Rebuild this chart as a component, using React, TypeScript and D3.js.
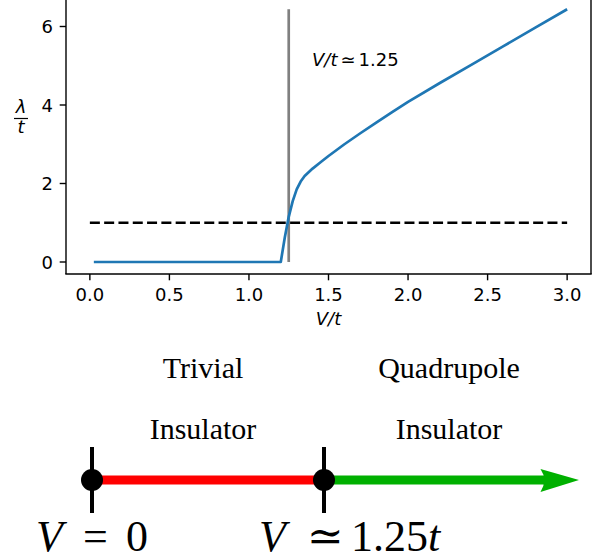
import React from "react";
import * as d3 from "d3";

const vt = [0.025, 1.2, 1.225, 1.25, 1.275, 1.3, 1.325, 1.35, 1.4, 1.45, 1.5, 1.6, 1.7, 1.8, 1.9, 2.0, 2.2, 2.4, 2.6, 2.8, 3.0];
const lambda = [0, 0, 0.62, 1.15, 1.55, 1.85, 2.05, 2.19, 2.38, 2.54, 2.7, 3.0, 3.28, 3.55, 3.82, 4.08, 4.56, 5.03, 5.5, 5.97, 6.44];
const xTicks = [0, 0.5, 1.0, 1.5, 2.0, 2.5, 3.0];
const yTicks = [0, 2, 4, 6];
const threshold = 1.25;
const refLevel = 1;
const phases = [
  { top: "Trivial", bottom: "Insulator" },
  { top: "Quadrupole", bottom: "Insulator" },
];

export default function App() {
  const x = d3.scaleLinear().domain([-0.15, 3.15]).range([66, 591]);
  const y = d3.scaleLinear().domain([0, 6]).range([262, 26.5]);
  const line = d3
    .line<number>()
    .x((_, i) => x(vt[i]))
    .y((d) => y(d));
  const lw = 2.7;
  const sans = "DejaVu Sans, sans-serif";
  const serif = "Liberation Serif, DejaVu Serif, serif";
  const maxL = d3.max(lambda) as number;

  const p = d3.scaleLinear().domain([0, threshold]).range([92, 324]);
  const py = 480;
  const arrowTip = 579;

  return (
    <svg width={602} height={560} style={{ position: "absolute", left: 0, top: 0, background: "#fff" }}>
      <rect width={602} height={560} fill="#fff" />
      <line x1={x(0)} x2={x(3)} y1={y(refLevel)} y2={y(refLevel)} stroke="#000" strokeWidth={lw} strokeDasharray="10,4.3" />
      <line x1={x(threshold)} x2={x(threshold)} y1={y(0)} y2={y(maxL)} stroke="#808080" strokeWidth={lw} />
      <path d={line(lambda) || ""} fill="none" stroke="#1f77b4" strokeWidth={lw} strokeLinejoin="round" />
      <line x1={66} x2={66} y1={-5} y2={274} stroke="#000" strokeWidth={1.4} />
      <line x1={591} x2={591} y1={-5} y2={274} stroke="#000" strokeWidth={1.4} />
      <line x1={66} x2={591} y1={274} y2={274} stroke="#000" strokeWidth={1.4} strokeLinecap="square" />
      {xTicks.map((t) => (
        <g key={"x" + t}>
          <line x1={x(t)} x2={x(t)} y1={274} y2={280.3} stroke="#000" strokeWidth={1.4} />
          <text x={x(t)} y={301} textAnchor="middle" fontFamily={sans} fontSize={18}>
            {t.toFixed(1)}
          </text>
        </g>
      ))}
      {yTicks.map((t) => (
        <g key={"y" + t}>
          <line x1={59.7} x2={66} y1={y(t)} y2={y(t)} stroke="#000" strokeWidth={1.4} />
          <text x={53} y={y(t) + 6.5} textAnchor="end" fontFamily={sans} fontSize={18}>
            {t}
          </text>
        </g>
      ))}
      <text x={328.5} y={325} textAnchor="middle" fontFamily={sans} fontSize={18} fontStyle="italic">
        V/t
      </text>
      <text x={21} y={113} textAnchor="middle" fontFamily={sans} fontSize={18} fontStyle="italic">
        λ
      </text>
      <line x1={14} x2={28} y1={118.5} y2={118.5} stroke="#000" strokeWidth={1.2} />
      <text x={21} y={133} textAnchor="middle" fontFamily={sans} fontSize={18} fontStyle="italic">
        t
      </text>
      <text x={312} y={66} fontFamily={sans} fontSize={18}>
        <tspan fontStyle="italic">V/t</tspan>
        <tspan dx={3}>≃</tspan>
        <tspan dx={3}>1.25</tspan>
      </text>

      <line x1={p(0)} x2={p(threshold)} y1={py} y2={py} stroke="#ff0000" strokeWidth={9} />
      <line x1={p(threshold)} x2={546} y1={py} y2={py} stroke="#00b000" strokeWidth={9} />
      <path d={`M${arrowTip},${py} L540.5,469 Q548,${py} 540.5,492 Z`} fill="#00b000" />
      {[0, threshold].map((v) => (
        <g key={"m" + v}>
          <line x1={p(v)} x2={p(v)} y1={447} y2={513} stroke="#000" strokeWidth={4} />
          <circle cx={p(v)} cy={py} r={11} fill="#000" />
        </g>
      ))}
      {phases.map((ph, i) => {
        const cx = i === 0 ? 203 : 449;
        return (
          <g key={ph.top + i}>
            <text x={cx} y={378} textAnchor="middle" fontFamily={serif} fontSize={30}>
              {ph.top}
            </text>
            <text x={cx} y={439} textAnchor="middle" fontFamily={serif} fontSize={30}>
              {ph.bottom}
            </text>
          </g>
        );
      })}
      <g fontFamily={serif} fontSize={44}>
        <text x={36} y={551} fontStyle="italic">V</text>
        <text x={83} y={551}>=</text>
        <text x={126} y={551}>0</text>
        <text x={259} y={551} fontStyle="italic">V</text>
        <text x={307} y={551}>≃</text>
        <text x={351} y={551}>1.25</text>
        <text x={428} y={551} fontStyle="italic">t</text>
      </g>
    </svg>
  );
}
